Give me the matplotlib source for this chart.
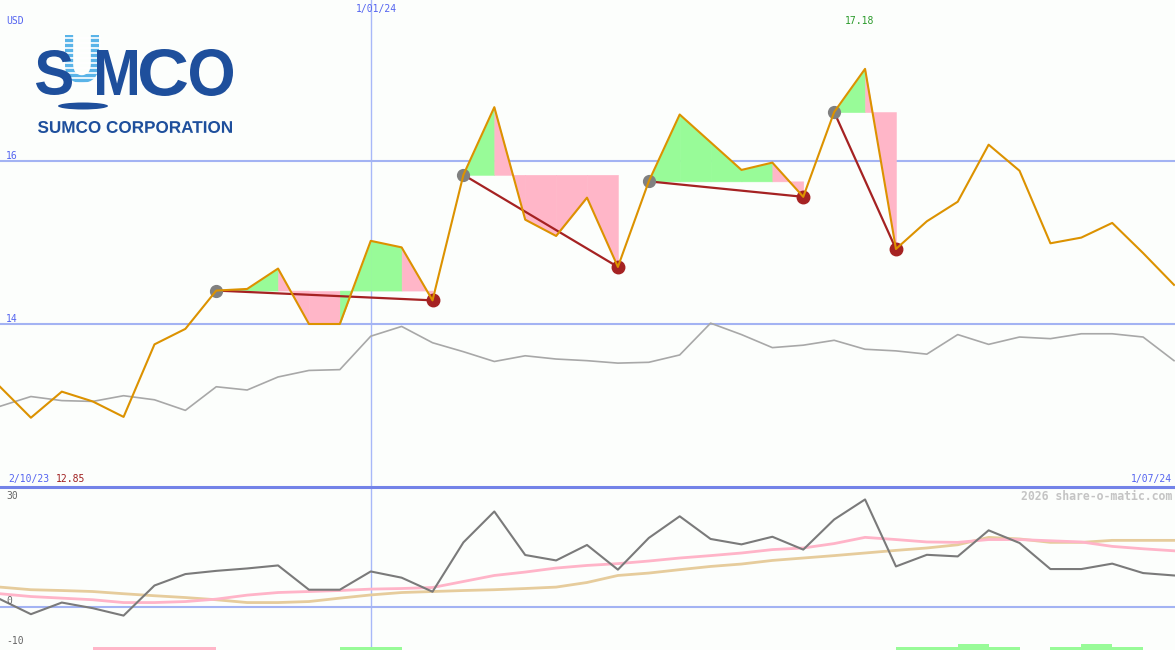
import numpy as np
import matplotlib
matplotlib.use("Agg")
import matplotlib.pyplot as plt
from matplotlib.textpath import TextPath
from matplotlib.font_manager import FontProperties
from matplotlib.patches import PathPatch, Ellipse
from matplotlib.transforms import Affine2D

W, H = 1175, 650
SPLIT = 487  # pixel row of the panel divider

# ---------- data (weekly closes, 9 Oct 2023 .. 1 Jul 2024) ----------
price = [13.23, 12.85, 13.17, 13.05, 12.86, 13.75, 13.94, 14.41, 14.43, 14.68,
         14.00, 14.00, 15.02, 14.94, 14.29, 15.83, 16.66, 15.28, 15.08, 15.55,
         14.70, 15.75, 16.57, 16.23, 15.89, 15.98, 15.56, 16.60, 17.13, 14.92,
         15.26, 15.50, 16.20, 15.88, 14.99, 15.06, 15.24, 14.87, 14.48]
index_line = [12.99, 13.11, 13.06, 13.05, 13.12, 13.07, 12.94, 13.23, 13.19, 13.35,
              13.43, 13.44, 13.85, 13.97, 13.77, 13.66, 13.54, 13.61, 13.57, 13.55,
              13.52, 13.53, 13.62, 14.01, 13.87, 13.71, 13.74, 13.80, 13.69, 13.67,
              13.63, 13.87, 13.75, 13.84, 13.82, 13.88, 13.88, 13.84, 13.55]
# trend runs: (start index, end index)
segments = [(7, 14), (15, 20), (21, 26), (27, 29)]

osc = [2.05, -1.7, 1.2, -0.2, -2.05, 5.45, 8.3, 9.1, 9.7, 10.45,
       4.4, 4.4, 8.95, 7.4, 3.9, 16.2, 23.9, 13.05, 11.7, 15.55,
       9.4, 17.3, 22.7, 17.05, 15.7, 17.6, 14.4, 21.9, 26.9, 10.2,
       13.1, 12.7, 19.2, 16.05, 9.55, 9.55, 10.9, 8.55, 7.95]
osc_fast = [3.4, 2.7, 2.3, 1.9, 1.2, 1.2, 1.45, 2.05, 3.05, 3.7,
            3.95, 4.2, 4.55, 4.7, 4.95, 6.45, 7.95, 8.8, 9.8, 10.45,
            10.9, 11.55, 12.3, 12.9, 13.55, 14.4, 14.8, 15.9, 17.45, 16.9,
            16.3, 16.2, 16.9, 16.9, 16.6, 16.3, 15.2, 14.6, 14.1]
osc_slow = [5.05, 4.4, 4.2, 3.95, 3.4, 2.9, 2.45, 1.9, 1.2, 1.2,
            1.45, 2.3, 3.1, 3.7, 3.95, 4.2, 4.4, 4.7, 5.05, 6.2,
            7.95, 8.55, 9.4, 10.2, 10.8, 11.7, 12.3, 12.9, 13.55, 14.2,
            14.8, 15.6, 17.45, 17.05, 16.2, 16.2, 16.7, 16.7, 16.7]
# weekly signal strip at the bottom (+ green, - pink)
signal = [0, 0, 0, -1, -1, -1, -1, 0, 0, 0, 0, 1, 1, 0, 0, 0, 0, 0, 0, 0,
          0, 0, 0, 0, 0, 0, 0, 0, 0, 1, 1, 2, 1, 0, 1, 2, 1, 0]

marker_week = 12          # 1/01/24
price_ticks = [16, 14]
osc_ticks = [30, 0, -10]

C = {
    "bg": "#fcfefc", "grid": "#a3b3f3", "div": "#7383e8", "blue": "#5464f0",
    "orange": "#dc9200", "index": "#a8a8a8", "green": "#98fb98", "pink": "#ffb6c8",
    "dred": "#a52222", "gmark": "#808080", "osc": "#7a7a7a", "fast": "#ffb4c8",
    "slow": "#e6cc9c", "logo": "#1e4f9c", "logo2": "#5ab4e8",
}

fig = plt.figure(figsize=(W / 100, H / 100), dpi=100, facecolor=C["bg"])
ax = fig.add_axes([0, 1 - SPLIT / H, 1, SPLIT / H], facecolor=C["bg"])
low = fig.add_axes([0, 0, 1, (H - SPLIT) / H], facecolor=C["bg"])
ov = fig.add_axes([0, 0, 1, 1], zorder=10)
ov.set_xlim(0, W)
ov.set_ylim(H, 0)
ov.patch.set_alpha(0)
ov.axis("off")

x = np.arange(len(price))
xmax = (len(price) - 1) * W / 1174
for a in (ax, low):
    a.set_xlim(0, xmax)
    a.axis("off")
    a.axvline(marker_week, color="#a8b8f8", lw=1.0, zorder=1)
ax.set_ylim(12.0, 17.975)
low.set_ylim(-10.625, 30)

# ---------- main panel ----------
for t in price_ticks:
    ax.axhline(t, color=C["grid"], lw=1.5, zorder=1)
ax.plot(x, index_line, color=C["index"], lw=1.2, zorder=2)

p = np.array(price)
for s, e in segments:
    ref = p[s]
    for i in range(s, e):
        col = C["green"] if p[i + 1] >= ref else C["pink"]
        ax.fill_between(x[i:i + 2], p[i:i + 2], ref, facecolor=col,
                        edgecolor=col, lw=0.4, zorder=2)
    ax.plot([s, e], [p[s], p[e]], color=C["dred"], lw=1.6, zorder=3)
    ax.plot(s, p[s], "o", ms=8.5, color=C["gmark"], zorder=3)
    ax.plot(e, p[e], "o", ms=9, color=C["dred"], zorder=4)
ax.plot(x, price, color=C["orange"], lw=1.5, zorder=5)

# ---------- lower panel ----------
low.axhline(0, color=C["grid"], lw=1.5, zorder=1)
low.plot(x, osc_slow, color=C["slow"], lw=2.0, zorder=2)
low.plot(x, osc_fast, color=C["fast"], lw=2.0, zorder=2)
low.plot(x, osc, color=C["osc"], lw=1.5, zorder=3)
sig = np.array(signal)
low.bar(x[:-1], np.abs(sig) * 0.75, bottom=-10.625, width=1, align="edge",
        color=[C["green"] if v > 0 else C["pink"] for v in sig], lw=0, zorder=2)

ov.axhline(SPLIT, color=C["div"], lw=2.2)

# ---------- texts ----------
mono = "DejaVu Sans Mono"
def lab(px, py, s, color=C["blue"], ha="left", size=7, bold=False):
    ov.text(px, py, s, color=color, ha=ha, va="center", fontsize=size,
            family=mono, fontweight="bold" if bold else "normal")

lab(6, 21, "USD")
lab(376, 9, "1/01/24", ha="center")
lab(6, 156, str(price_ticks[0]))
lab(6, 319, str(price_ticks[1]))
lab(860, 21, "17.18", color="#2a9a2a", ha="center")
lab(8, 479, "2/10/23")
lab(56, 479, "12.85", color="#a02020")
lab(1172, 479, "1/07/24", ha="right")
lab(6, 496, str(osc_ticks[0]), color="#666666")
lab(6, 601, str(osc_ticks[1]), color="#666666")
lab(6, 641, str(osc_ticks[2]), color="#666666")
lab(1172, 496, "2026 share-o-matic.com", color="#c4c4c4", ha="right", size=8.3, bold=True)

# ---------- logo ----------
fp = FontProperties(family="Liberation Sans", weight="bold")
def word(s, x0, x1, y0, y1, color, z=11):
    tp = TextPath((0, 0), s, size=100, prop=fp)
    bb = tp.get_extents()
    tr = (Affine2D().translate(-bb.x0, -bb.y0)
          .scale((x1 - x0) / bb.width, -(y1 - y0) / bb.height)
          .translate(x0, y1))
    ov.add_patch(PathPatch(tr.transform_path(tp), fc=color, ec="none", zorder=z))

word("U", 65, 99, 35, 83, C["logo2"], z=11)
for yy in np.arange(38, 84, 5):
    ov.plot([64, 100], [yy, yy], color="white", lw=1.2, zorder=11.5)
word("S", 36, 72, 50, 95, C["logo"], z=12)
word("M", 97, 137, 50, 95, C["logo"], z=12)
word("C", 140, 187, 49, 96, C["logo"], z=12)
word("O", 190, 233, 49, 96, C["logo"], z=12)
ov.add_patch(Ellipse((83, 106), 50, 7, fc=C["logo"], ec="none", zorder=12))
word("SUMCO CORPORATION", 38, 232, 121, 133, C["logo"], z=12)

fig.savefig("out.png", dpi=100, facecolor=C["bg"])
